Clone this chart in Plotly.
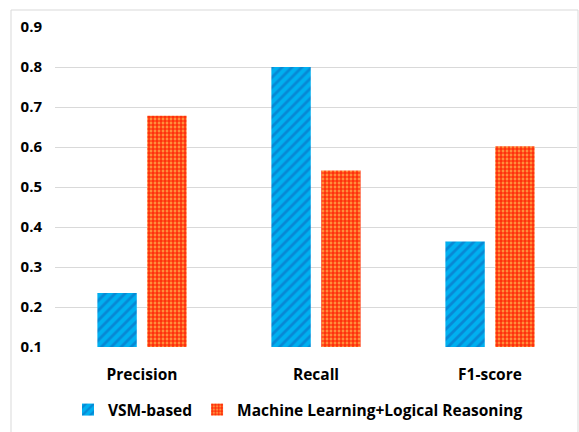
import plotly.graph_objects as go

categories = ["Precision", "Recall", "F1-score"]
vsm_values = [0.235, 0.80, 0.364]
ml_values = [0.678, 0.541, 0.602]
series_names = ["VSM-based", "Machine Learning+Logical Reasoning"]
y_ticks = [0.1, 0.2, 0.3, 0.4, 0.5, 0.6, 0.7, 0.8, 0.9]

FONT = "Open Sans"

fig = go.Figure()
fig.add_trace(go.Bar(
    x=categories, y=vsm_values, name=series_names[0],
    marker=dict(color="#00B0F0", line=dict(width=0),
                pattern=dict(shape="/", fgcolor="#0888D4", bgcolor="#00B0F0",
                             size=7, solidity=0.4, fillmode="replace")),
))
fig.add_trace(go.Bar(
    x=categories, y=ml_values, name=series_names[1],
    marker=dict(color="#FF5A20", line=dict(width=0),
                pattern=dict(shape="+", fgcolor="#FF1A00", bgcolor="#FF8E3C",
                             size=4, solidity=0.5, fillmode="replace")),
))

W, H = 579, 432
L, R, T, B = 55, 2, 27, 85
pw, ph = W - L - R, H - T - B

def px_to_paper_x(px):
    return (px - L) / pw

def px_to_paper_y(py):
    return (H - B - py) / ph

fig.update_layout(
    width=W, height=H,
    margin=dict(l=L, r=R, t=T, b=B, autoexpand=False),
    paper_bgcolor="white", plot_bgcolor="white",
    barmode="group", bargap=0.427, bargroupgap=0.21,
    font=dict(family=FONT, size=15, color="#000000"),
    showlegend=True,
    legend=dict(orientation="h", x=px_to_paper_x(298), xanchor="center",
                y=px_to_paper_y(410), yanchor="middle",
                font=dict(family=FONT, size=15.5, color="#000000", weight="bold"),
                itemwidth=30, tracegroupgap=0),
    xaxis=dict(showgrid=False, showline=False, zeroline=False,
               tickfont=dict(family=FONT, size=15.5, color="#000000", weight="bold"),
               ticks="", ticklabelstandoff=16),
    yaxis=dict(range=[0.1, 0.9], tickvals=y_ticks,
               ticktext=[f"{v:.1f}" for v in y_ticks],
               showgrid=True, gridcolor="#D9D9D9", gridwidth=1,
               zeroline=False, showline=False, ticks="",
               tickfont=dict(family=FONT, size=15, color="#000000", weight="bold"),
               ticklabelstandoff=12),
    shapes=[dict(type="rect", xref="paper", yref="paper",
                 x0=px_to_paper_x(11), x1=px_to_paper_x(578),
                 y0=px_to_paper_y(445), y1=px_to_paper_y(10),
                 line=dict(color="#D9D9D9", width=1), fillcolor="rgba(0,0,0,0)",
                 layer="below")],
)

fig.write_html("out.html", config={"displayModeBar": False},
               post_script="document.body.style.margin='0';document.body.style.overflow='hidden';")
